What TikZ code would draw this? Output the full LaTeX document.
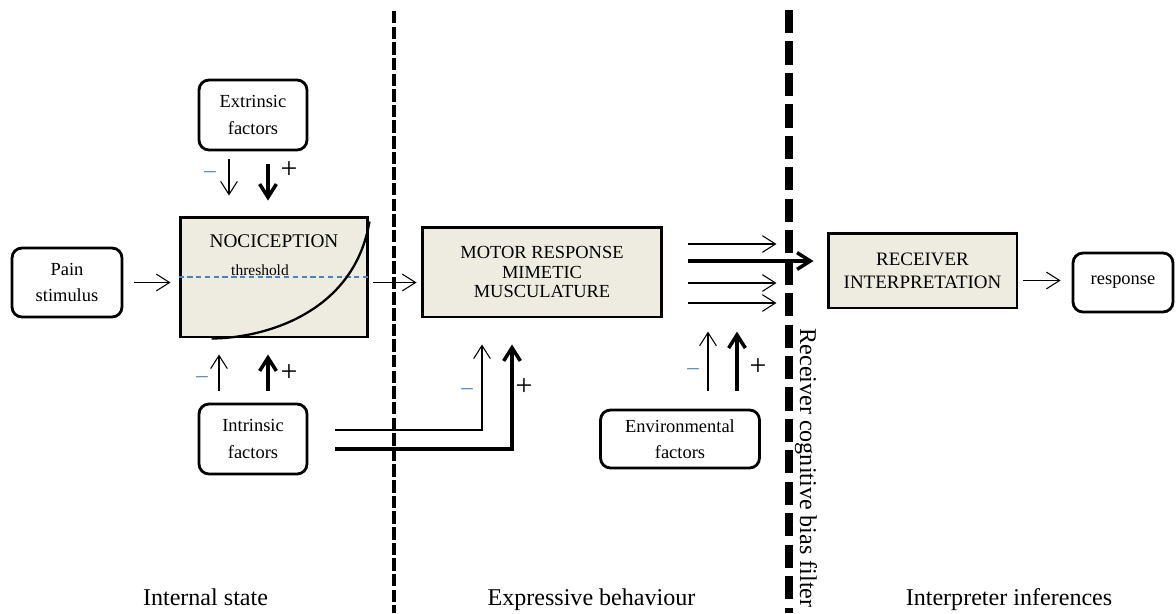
\documentclass[tikz,border=0pt]{standalone}
\usepackage{fontspec}
\setmainfont{Liberation Serif}
\usetikzlibrary{arrows.meta}
\usetikzlibrary{positioning}
\usetikzlibrary{calc}
\definecolor{boxfill}{RGB}{238,236,225}
\definecolor{minusblue}{RGB}{79,129,189}

\begin{document}
\begin{tikzpicture}[x=0.02cm,y=-0.02cm,>={Straight Barb[length=7.5pt,width=9.5pt]},line width=0.6pt]
\tikzstyle{every node}=[font=\fontsize{10.5}{15}\selectfont]
\tikzstyle{rbox}=[draw,rounded corners=0.2cm,line width=1.6pt,align=center,inner sep=0pt]
\tikzstyle{sbox}=[draw,fill=boxfill,line width=1.7pt,align=center,inner sep=0pt]
\tikzstyle{heavy}=[line width=2pt]
\tikzstyle{plussign}=[font=\fontsize{17}{17}\selectfont]
\tikzstyle{minussign}=[font=\fontsize{13}{13}\selectfont,text=minusblue]
\tikzstyle{region}=[font=\fontsize{13.7}{16}\selectfont]
\useasboundingbox (0,0) rectangle (1176,613);

% filters
\coordinate (d1t) at (394,11); \coordinate (d1b) at (394,613);
\draw[line width=2.2pt,dash pattern=on 7.1pt off 1.8pt] (d1t) -- (d1b);
\coordinate (d2t) at (789,10); \coordinate (d2b) at (789,613);
\draw[line width=4.5pt,dash pattern=on 13.2pt off 4.7pt] (d2t) -- (d2b);

\path node[rbox,minimum width=2.2cm,minimum height=1.38cm] (ps) at (67,282.5) {Pain\\stimulus};
\path node[rbox,minimum width=2.16cm,minimum height=1.4cm] (ex) at (253,115) {Extrinsic\\factors};
\path node[sbox,minimum width=3.76cm,minimum height=2.4cm] (noc) at (274,277) {};
\path node[rbox,minimum width=2.16cm,minimum height=1.4cm] (in) at (253,439) {Intrinsic\\factors};
\path node[sbox,minimum width=4.8cm,minimum height=1.8cm,font=\fontsize{10.5}{11.3}\selectfont] (mot) at (542,272) {MOTOR RESPONSE\\MIMETIC\\MUSCULATURE};
\path node[rbox,minimum width=3.18cm,minimum height=1.16cm] (env) at (680,439) {Environmental\\factors};
\path node[sbox,minimum width=3.78cm,minimum height=1.5cm,font=\fontsize{10.8}{13}\selectfont] (rec) at (922.5,270.5) {RECEIVER\\INTERPRETATION};
\path node[rbox,minimum width=2cm,minimum height=1.18cm] (resp) at (1123,282.5) {response};

% inside the nociception box
\draw[minusblue,line width=0.6pt,dash pattern=on 3pt off 2pt] (noc.west) -- (noc.east);
\draw[line width=1.3pt] ($(noc.south west)+(33,0)$) .. controls ($(noc.south west)+(80,0)$) and ($(noc.south east)+(-16,-22)$) .. ($(noc.north east)+(0,6)$);
\path node[font=\fontsize{11}{13}\selectfont] (nl) at ($(noc.north)+(0,26)$) {NOCICEPTION};
\path node[font=\fontsize{8.8}{10}\selectfont,anchor=base] (th) at ($(noc.center)+(-14,-2)$) {threshold};

\path[->] ($(ps.east)+(11,0)$) edge ($(noc.west |- ps.east)+(-8,0)$);
\path[->] ($(ex.south)+(-24,8)$) edge ($(noc.north)+(-45,-20)$);
\path[->,heavy] ($(ex.south)+(15,13)$) edge ($(noc.north)+(-6,-15)$);
\path[->] ($(in.north)+(-34,-12)$) edge ($(noc.south)+(-55,16)$);
\path[->,heavy] ($(in.north)+(15,-12)$) edge ($(noc.south)+(-6,16)$);
\path[->] ($(noc.east |- ps.east)+(4,0)$) edge ($(mot.west |- ps.east)+(-4,0)$);

\path[->,draw] ($(in.east)+(27,-9)$) -| ($(mot.south)+(-60,26)$);
\path[->,draw,heavy] ($(in.east)+(27,10)$) -| ($(mot.south)+(-30,26)$);
\path[->,draw] ($(env.north)+(28,-18)$) -- ++(0,-59);
\path[->,draw,heavy] ($(env.north)+(57,-18)$) -- ++(0,-59);

\path[->,draw] ($(mot.east)+(25,-28)$) -- ++(88,0);
\path[->,heavy] ($(mot.east)+(25,-11)$) edge ($(rec.west)+(-13,-9.5)$);
\path[->,draw] ($(mot.east)+(25,11)$) -- ++(88,0);
\path[->,draw] ($(mot.east)+(25,31)$) -- ++(88,0);
\path[->] ($(rec.east)+(5,10)$) edge ($(resp.west)+(-11,-2)$);

\path node[minussign] (m1) at (210,175) {\textendash};
\path node[plussign] (p1) at (289,170) {+};
\path node[minussign] (m2) at (202,380) {\textendash};
\path node[plussign] (p2) at (289,373) {+};
\path node[minussign] (m3) at (467,392) {\textendash};
\path node[plussign] (p3) at (524,387) {+};
\path node[minussign] (m4) at (693,372) {\textendash};
\path node[plussign] (p4) at (758,367) {+};

\path node[region,rotate=-90] (fl) at (806,468) {Receiver cognitive bias filter};
\path node[region,anchor=base] (is) at (205.5,605) {Internal state};
\path node[region,anchor=base] (eb) at (591.5,605) {Expressive behaviour};
\path node[region,anchor=base] (ii) at (1009,605) {Interpreter inferences};
\end{tikzpicture}
\end{document}
